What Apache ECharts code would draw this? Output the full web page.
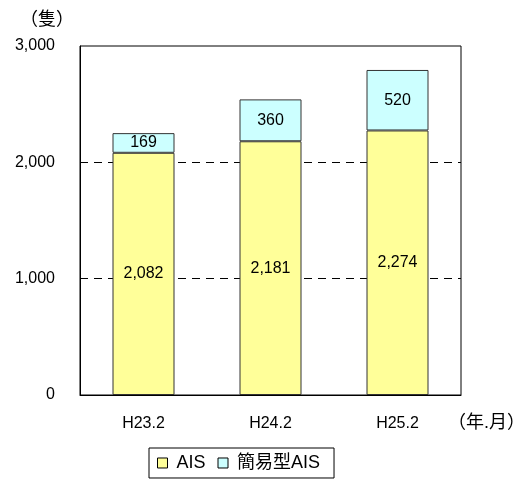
<!DOCTYPE html>
<html><head><meta charset="utf-8">
<script src="https://cdn.jsdelivr.net/npm/echarts@6/dist/echarts.min.js"></script>
<style>html,body{margin:0;padding:0;background:#fff}#c{width:523px;height:479px}</style>
</head><body><div id="c"></div>
<script>
var categories = ['H23.2', 'H24.2', 'H25.2'];
var aisValues = [2082, 2181, 2274];
var simpleAisValues = [169, 360, 520];
var seriesNames = ['AIS', '簡易型AIS'];
var yUnit = '（隻）';
var xUnit = '（年.月）';

var FONT = '"Liberation Sans", "Noto Sans CJK JP", sans-serif';
var chart = echarts.init(document.getElementById('c'));
var labelStyle = {show: true, position: 'inside', color: '#000', fontSize: 16, fontFamily: FONT,
  formatter: function(p){ return p.value.toLocaleString('en-US'); }};
chart.setOption({
  animation: false,
  textStyle: {fontFamily: FONT},
  grid: {left: 80, right: 62, top: 46, bottom: 84, show: true, borderColor: '#000', borderWidth: 1},
  xAxis: {
    type: 'category', data: categories,
    axisLine: {lineStyle: {color: '#000'}}, axisTick: {show: false},
    axisLabel: {color: '#000', fontSize: 16, margin: 21}
  },
  yAxis: {
    type: 'value', min: 0, max: 3000, interval: 1000,
    axisLine: {show: true, lineStyle: {color: '#000'}}, axisTick: {show: false},
    axisLabel: {color: '#000', fontSize: 16, margin: 25, formatter: function(v){ return v.toLocaleString('en-US'); }},
    splitLine: {showMaxLine: false, showMinLine: false, lineStyle: {color: '#000', type: [8, 6], width: 1}}
  },
  legend: {
    left: 149, top: 448, padding: [6, 14, 6, 8],
    borderColor: '#000', borderWidth: 1, itemGap: 12, itemWidth: 10, itemHeight: 10, icon: 'rect',
    textStyle: {fontSize: 18, color: '#000', padding: [0, 0, 0, 4]},
    data: seriesNames.map(function(n){ return {name: n, itemStyle: {borderColor: '#000', borderWidth: 1}}; })
  },
  graphic: [
    {type: 'text', left: 20, top: 11, style: {text: yUnit, font: '18px ' + FONT, fill: '#000'}},
    {type: 'text', left: 448, top: 414, style: {text: xUnit, font: '18px ' + FONT, fill: '#000'}}
  ],
  series: [
    {name: seriesNames[0], type: 'bar', stack: 'a', barWidth: 62, data: aisValues,
     itemStyle: {color: '#FFFF99', borderColor: '#333', borderWidth: 1}, label: labelStyle},
    {name: seriesNames[1], type: 'bar', stack: 'a', barWidth: 62, data: simpleAisValues,
     itemStyle: {color: '#CCFFFF', borderColor: '#333', borderWidth: 1}, label: labelStyle}
  ]
});
</script></body></html>
